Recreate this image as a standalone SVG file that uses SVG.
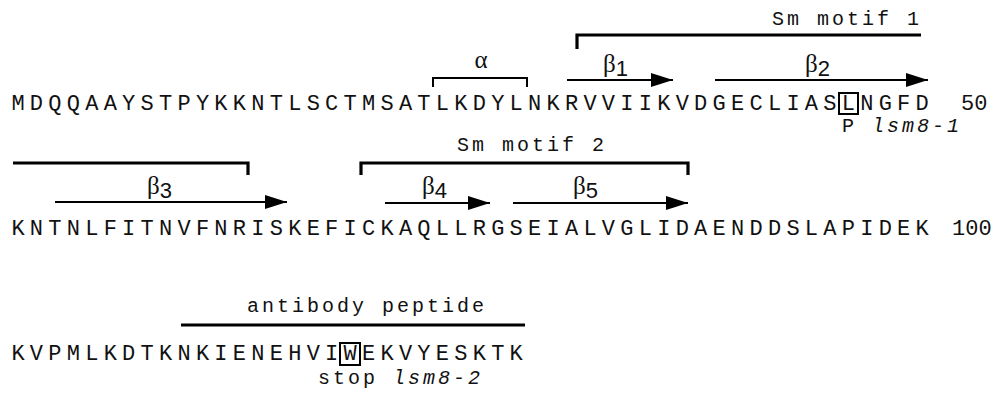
<svg xmlns="http://www.w3.org/2000/svg" width="996" height="395" viewBox="0 0 996 395">
  <defs>
    <style>
      .seq { font-family: "Liberation Mono", monospace; font-size: 22px; letter-spacing: 5.25px; fill: #111; }
      .num { font-family: "Liberation Mono", monospace; font-size: 22px; fill: #111; }
      .lab { font-family: "Liberation Mono", monospace; font-size: 20px; letter-spacing: 3px; fill: #111; }
      .ital { font-style: italic; }
      .greek { font-family: "Liberation Serif", serif; font-size: 25px; fill: #111; }
      .sub { font-family: "Liberation Sans", sans-serif; font-size: 22px; }
      .strand { stroke: #000; stroke-width: 2; fill: none; marker-end: url(#head); }
      .motif { stroke: #000; stroke-width: 3.2; fill: none; }
      .helix { stroke: #000; stroke-width: 2; fill: none; }
      .mut { stroke: #000; stroke-width: 2; fill: none; }
    </style>
    <marker id="head" markerUnits="userSpaceOnUse" markerWidth="23" markerHeight="16" refX="22" refY="8" orient="auto">
      <path d="M0,1 L22,8 L0,15 Z" fill="#000"/>
    </marker>
  </defs>
  <rect width="996" height="395" fill="#fff"/>

  <!-- residues 1-50 -->
  <g id="row1">
    <text class="seq" x="11.4" y="110">MDQQAAYSTPYKKNTLSCTMSATLKDYLNKRVVIIKVDGECLIASLNGFD</text>
    <text class="num" x="961" y="110">50</text>
  </g>

  <!-- residues 51-100 -->
  <g id="row2">
    <text class="seq" x="11.4" y="235">KNTNLFITNVFNRISKEFICKAQLLRGSEIALVGLIDAENDDSLAPIDEK</text>
    <text class="num" x="952" y="235">100</text>
  </g>

  <!-- residues 101-128 -->
  <g id="row3">
    <text class="seq" x="11.4" y="360">KVPMLKDTKNKIENEHVIWEKVYESKTK</text>
  </g>

  <!-- alpha helix -->
  <g id="helix-alpha">
    <path class="helix" d="M433,87 V78 H527 V87"/>
    <text class="greek" x="481" y="68" text-anchor="middle">α</text>
  </g>

  <!-- Sm motif 1 (wraps onto second row) -->
  <g id="sm-motif-1">
    <text class="lab" x="772" y="25">Sm motif 1</text>
    <path class="motif" d="M577,49 V35 H921"/>
    <path class="motif" d="M13,163 H248 V175"/>
  </g>

  <!-- Sm motif 2 -->
  <g id="sm-motif-2">
    <text class="lab" x="457" y="151">Sm motif 2</text>
    <path class="motif" d="M361,175 V163 H688 V175"/>
  </g>

  <!-- beta strands -->
  <g id="beta1">
    <line class="strand" x1="567" y1="80" x2="673" y2="80"/>
    <text class="greek" x="603" y="72">β<tspan class="sub" dy="4">1</tspan></text>
  </g>
  <g id="beta2">
    <line class="strand" x1="715" y1="80" x2="928" y2="80"/>
    <text class="greek" x="805" y="72">β<tspan class="sub" dy="4">2</tspan></text>
  </g>
  <g id="beta3">
    <line class="strand" x1="55" y1="202" x2="287" y2="202"/>
    <text class="greek" x="147" y="194">β<tspan class="sub" dy="4">3</tspan></text>
  </g>
  <g id="beta4">
    <line class="strand" x1="385" y1="203" x2="490" y2="203"/>
    <text class="greek" x="422" y="194">β<tspan class="sub" dy="4">4</tspan></text>
  </g>
  <g id="beta5">
    <line class="strand" x1="513" y1="203" x2="688" y2="203"/>
    <text class="greek" x="573" y="194">β<tspan class="sub" dy="4">5</tspan></text>
  </g>

  <!-- lsm8-1 point mutation L46P -->
  <g id="lsm8-1">
    <rect class="mut" x="839" y="93" width="19" height="21"/>
    <text class="lab" x="842" y="132">P <tspan class="ital">lsm8-1</tspan></text>
  </g>

  <!-- antibody peptide -->
  <g id="antibody-peptide">
    <text class="lab" x="247" y="312">antibody peptide</text>
    <line class="motif" x1="181" y1="325" x2="525" y2="325"/>
  </g>

  <!-- lsm8-2 nonsense mutation W119stop -->
  <g id="lsm8-2">
    <rect class="mut" x="340" y="343" width="20" height="22"/>
    <text class="lab" x="318" y="384">stop <tspan class="ital">lsm8-2</tspan></text>
  </g>
</svg>
